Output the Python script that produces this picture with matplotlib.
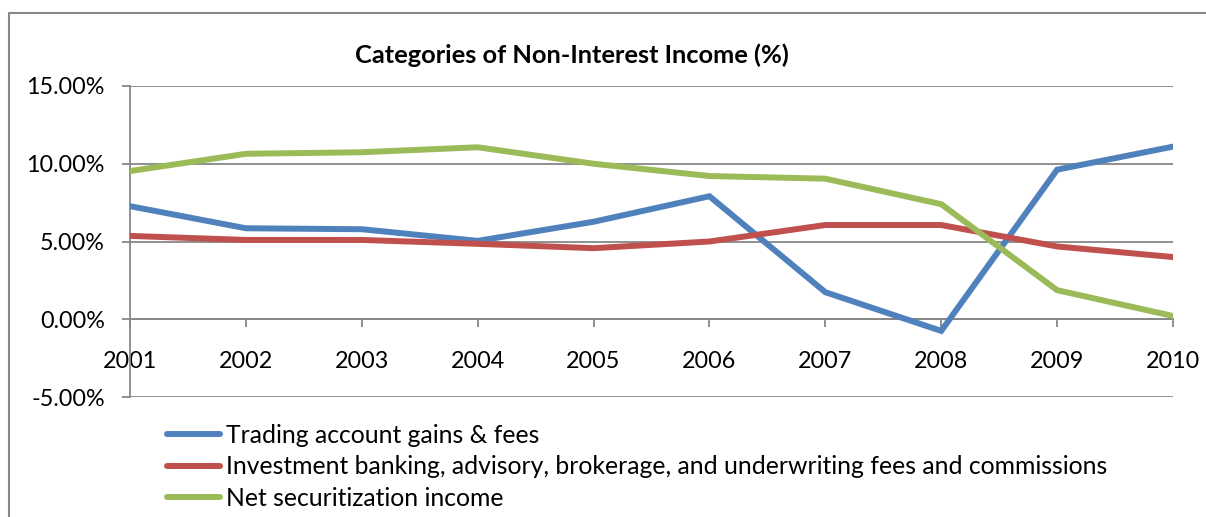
import matplotlib
matplotlib.use("Agg")
import matplotlib.pyplot as plt
from matplotlib.lines import Line2D

plt.rcParams['font.family'] = ['Lato', 'DejaVu Sans']

years = ['2001', '2002', '2003', '2004', '2005', '2006', '2007', '2008', '2009', '2010']
trading = [7.27, 5.85, 5.79, 5.04, 6.27, 7.91, 1.74, -0.75, 9.62, 11.10]
inv_banking = [5.36, 5.10, 5.10, 4.85, 4.57, 5.00, 6.06, 6.06, 4.68, 4.00]
securitization = [9.53, 10.64, 10.74, 11.06, 10.00, 9.21, 9.04, 7.40, 1.87, 0.21]

labels = ['Trading account gains & fees',
          'Investment banking, advisory, brokerage, and underwriting fees and commissions',
          'Net securitization income']
colors = ['#4F81BD', '#C0504D', '#9BBB59']
grid_color = '#878787'

W, H = 1206, 517
fig = plt.figure(figsize=(W / 100, H / 100), dpi=100)
ax = fig.add_axes([130 / W, (H - 397) / H, (1173 - 130) / W, (397 - 86) / H])

x = list(range(len(years)))
for series, c, lab in zip([trading, inv_banking, securitization], colors, labels):
    ax.plot(x, series, color=c, lw=4.3, label=lab, solid_capstyle='round', solid_joinstyle='miter', zorder=3)

ax.set_xlim(0, len(years) - 1)
ax.set_ylim(-5, 15)
ax.set_yticks([-5, 0, 5, 10, 15])
ax.set_yticklabels([f'{v:.2f}%' for v in [-5, 0, 5, 10, 15]])
ax.set_xticks(x)
ax.set_xticklabels(years)

ax.grid(axis='y', color=grid_color, lw=1.3, zorder=1)
for s in ['top', 'right']:
    ax.spines[s].set_visible(False)
ax.spines['left'].set_color(grid_color)
ax.spines['left'].set_linewidth(1.3)
ax.spines['bottom'].set_position(('data', 0))
ax.spines['bottom'].set_color(grid_color)
ax.spines['bottom'].set_linewidth(1.3)
ax.tick_params(axis='y', length=6, width=1.3, color=grid_color, labelsize=16.8, pad=12)
ax.tick_params(axis='x', length=6, width=1.3, color=grid_color, labelsize=16.8, pad=17)

fig.text(572 / W, (H - 55) / H, 'Categories of Non-Interest Income (%)',
         ha='center', va='center', fontsize=18.3, fontweight='bold')

leg = fig.legend(loc='upper left', bbox_to_anchor=(167 / W, (H - 424) / H),
                 frameon=False, fontsize=17.8, handlelength=2.15, handletextpad=0.25,
                 labelspacing=0.34, borderpad=0, borderaxespad=0)

# chart border (left and top edges)
fig.add_artist(Line2D([9 / W, 9 / W, 1], [0, (H - 13) / H, (H - 13) / H],
                      transform=fig.transFigure, color=grid_color, lw=1.5))

fig.savefig('out.png', dpi=100)
